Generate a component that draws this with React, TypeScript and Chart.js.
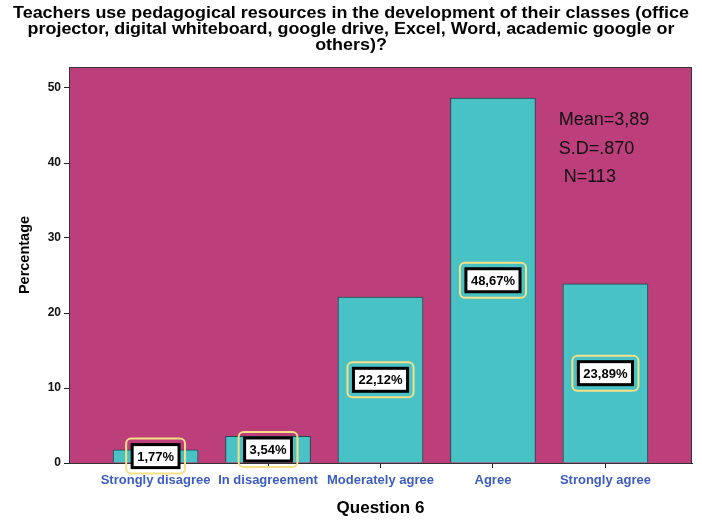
import React, { useEffect, useRef } from 'react';
import { Chart, registerables } from 'chart.js';

Chart.register(...registerables);

const categories = ['Strongly disagree', 'In disagreement', 'Moderately agree', 'Agree', 'Strongly agree'];
const percentages = [1.77, 3.54, 22.12, 48.67, 23.89];
const valueLabels = ['1,77%', '3,54%', '22,12%', '48,67%', '23,89%'];
const yTickValues = [0, 10, 20, 30, 40, 50];
const titleLines = [
  'Teachers use pedagogical resources in the development of their classes (office',
  'projector, digital whiteboard, google drive, Excel, Word, academic google or',
  'others)?',
];
const statsLines = ['Mean=3,89', 'S.D=.870', ' N=113'];
const xAxisTitle = 'Question 6';
const yAxisTitle = 'Percentage';

const FONT = 'Arial, "Liberation Sans", sans-serif';

const overlayPlugin = {
  id: 'overlay',
  beforeDatasetsDraw(chart: any) {
    const { ctx, chartArea } = chart;
    ctx.save();
    ctx.fillStyle = '#bc3e7b';
    ctx.fillRect(chartArea.left, chartArea.top, chartArea.right - chartArea.left, chartArea.bottom - chartArea.top);
    ctx.restore();
  },
  afterDatasetsDraw(chart: any) {
    const { ctx, chartArea } = chart;
    ctx.save();
    ctx.strokeStyle = '#333';
    ctx.lineWidth = 1;
    ctx.strokeRect(chartArea.left + 0.5, chartArea.top + 0.5, chartArea.right - chartArea.left - 1, chartArea.bottom - chartArea.top);

    const meta = chart.getDatasetMeta(0);
    ctx.font = `bold 13px ${FONT}`;
    ctx.textAlign = 'center';
    ctx.textBaseline = 'middle';
    meta.data.forEach((bar: any, i: number) => {
      const cx = bar.x;
      const cy = (bar.y + bar.base) / 2;
      const tw = ctx.measureText(valueLabels[i]).width;
      const iw = tw + 10;
      const ih = 23;
      const ow = iw + 12;
      const oh = ih + 12;
      ctx.strokeStyle = '#f6df86';
      ctx.lineWidth = 2;
      ctx.beginPath();
      (ctx as any).roundRect(cx - ow / 2, cy - oh / 2, ow, oh, 5);
      ctx.stroke();
      ctx.fillStyle = '#ffffff';
      ctx.fillRect(cx - iw / 2, cy - ih / 2, iw, ih);
      ctx.strokeStyle = '#000';
      ctx.lineWidth = 3;
      ctx.strokeRect(cx - iw / 2, cy - ih / 2, iw, ih);
      ctx.fillStyle = '#000';
      ctx.fillText(valueLabels[i], cx, cy + 1);
    });

    ctx.font = `18px ${FONT}`;
    ctx.textAlign = 'left';
    ctx.fillStyle = '#111';
    const w = chartArea.right - chartArea.left;
    const h = chartArea.bottom - chartArea.top;
    const sx = chartArea.left + w * 0.786;
    const sy = [0.134, 0.207, 0.278];
    statsLines.forEach((s, i) => {
      ctx.fillText(s, sx, chartArea.top + h * sy[i]);
    });
    ctx.restore();
  },
  afterDraw(chart: any) {
    const { ctx, chartArea, width } = chart;
    ctx.save();
    ctx.fillStyle = '#000';
    ctx.textAlign = 'center';
    ctx.textBaseline = 'middle';
    ctx.font = `bold 16px ${FONT}`;
    ctx.save();
    ctx.translate(width / 2, 0);
    ctx.scale(1.12, 1);
    titleLines.forEach((t, i) => ctx.fillText(t, 0, 14 + i * 16));
    ctx.restore();
    ctx.font = `bold 17px ${FONT}`;
    ctx.fillText(xAxisTitle, (chartArea.left + chartArea.right) / 2, chartArea.bottom + 45);
    ctx.translate(25, 255);
    ctx.rotate(-Math.PI / 2);
    ctx.font = `bold 14.5px ${FONT}`;
    ctx.fillText(yAxisTitle, 0, 0);
    ctx.restore();
  },
};

export default function App() {
  const ref = useRef<HTMLCanvasElement>(null);
  useEffect(() => {
    document.body.style.margin = '0';
    const chart = new Chart(ref.current!, {
      type: 'bar',
      data: {
        datasets: [
          {
            data: percentages.map((v, i) => ({ x: i, y: v })),
            backgroundColor: '#48c2c5',
            borderColor: '#1d4a4c',
            borderWidth: 1,
            barThickness: 85,
          },
        ],
      },
      options: {
        animation: false,
        responsive: false,
        maintainAspectRatio: false,
        layout: { padding: { top: 67, right: 10, left: 0, bottom: 0 } },
        plugins: { legend: { display: false }, tooltip: { enabled: false }, title: { display: false } },
        scales: {
          x: {
            type: 'linear',
            min: -0.77,
            max: 4.77,
            offset: false,
            afterBuildTicks: (scale: any) => {
              scale.ticks = categories.map((_, i) => ({ value: i }));
            },
            afterFit: (scale: any) => {
              scale.height = 57;
            },
            grid: { drawOnChartArea: false, offset: false, tickLength: 5, color: '#222' },
            border: { display: true, color: '#222' },
            ticks: {
              autoSkip: false,
              maxRotation: 0,
              padding: 5,
              color: '#3c5cbf',
              font: { family: FONT, size: 13, weight: 'bold' },
              callback: (v: any) => categories[Math.round(Number(v))] ?? '',
            },
          },
          y: {
            min: 0,
            max: 52.8,
            afterBuildTicks: (scale: any) => {
              scale.ticks = yTickValues.map((v) => ({ value: v }));
            },
            afterFit: (scale: any) => {
              scale.width = 69;
            },
            grid: { drawOnChartArea: false, tickLength: 5, color: '#222' },
            border: { display: true, color: '#222' },
            ticks: {
              padding: 3,
              color: '#111',
              font: { family: FONT, size: 12, weight: 'bold' },
            },
          },
        },
      },
      plugins: [overlayPlugin],
    } as any);
    return () => chart.destroy();
  }, []);
  return <canvas ref={ref} width={702} height={520} style={{ display: 'block', width: 702, height: 520 }} />;
}
